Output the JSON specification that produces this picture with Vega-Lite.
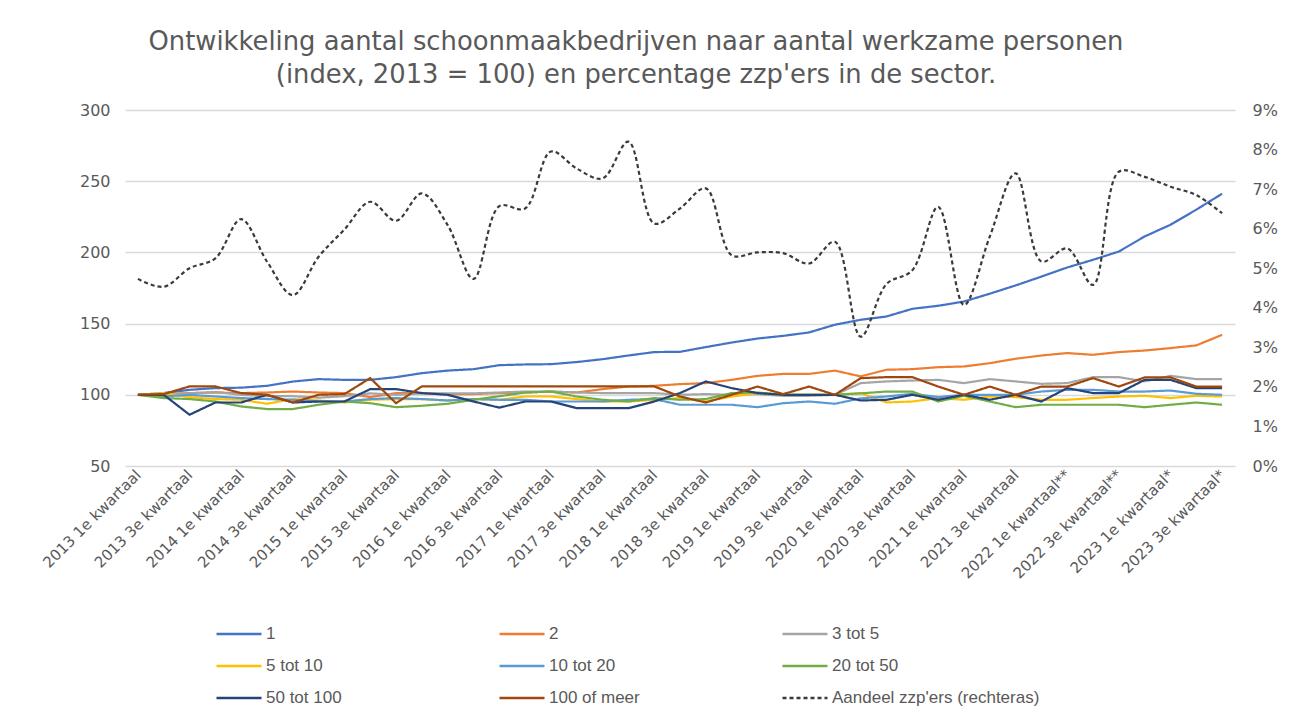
{
  "$schema": "https://vega.github.io/schema/vega-lite/v6.json",
  "width": 1110,
  "height": 356,
  "autosize": {"type": "none"},
  "padding": {"left": 125, "top": 110, "right": 61, "bottom": 253},
  "background": "white",
  "title": {
    "text": ["Ontwikkeling aantal schoonmaakbedrijven naar aantal werkzame personen", "(index, 2013 = 100) en percentage zzp'ers in de sector."],
    "font": "DejaVu Sans", "fontSize": 25.8, "fontWeight": "normal", "color": "#595959",
    "anchor": "middle", "frame": "group", "dx": -44, "offset": 13, "lineHeight": 33
  },
  "config": {
    "view": {"stroke": null},
    "axis": {"labelFont": "DejaVu Sans", "labelColor": "#595959", "domain": false, "ticks": false, "title": null}
  },
  "datasets": {
    "index": [
{"q":"2013 1e kwartaal","s":"1","v":100},{"q":"2013 2e kwartaal","s":"1","v":101.2},{"q":"2013 3e kwartaal","s":"1","v":103.5},{"q":"2013 4e kwartaal","s":"1","v":104.7},
{"q":"2014 1e kwartaal","s":"1","v":105},{"q":"2014 2e kwartaal","s":"1","v":106.3},{"q":"2014 3e kwartaal","s":"1","v":109.3},{"q":"2014 4e kwartaal","s":"1","v":111},
{"q":"2015 1e kwartaal","s":"1","v":110.5},{"q":"2015 2e kwartaal","s":"1","v":110.5},{"q":"2015 3e kwartaal","s":"1","v":112.4},{"q":"2015 4e kwartaal","s":"1","v":115.2},
{"q":"2016 1e kwartaal","s":"1","v":117},{"q":"2016 2e kwartaal","s":"1","v":118},{"q":"2016 3e kwartaal","s":"1","v":120.8},{"q":"2016 4e kwartaal","s":"1","v":121.3},
{"q":"2017 1e kwartaal","s":"1","v":121.5},{"q":"2017 2e kwartaal","s":"1","v":123},{"q":"2017 3e kwartaal","s":"1","v":125},{"q":"2017 4e kwartaal","s":"1","v":127.6},
{"q":"2018 1e kwartaal","s":"1","v":130},{"q":"2018 2e kwartaal","s":"1","v":130.2},{"q":"2018 3e kwartaal","s":"1","v":133.5},{"q":"2018 4e kwartaal","s":"1","v":136.7},
{"q":"2019 1e kwartaal","s":"1","v":139.5},{"q":"2019 2e kwartaal","s":"1","v":141.4},{"q":"2019 3e kwartaal","s":"1","v":143.8},{"q":"2019 4e kwartaal","s":"1","v":149.2},
{"q":"2020 1e kwartaal","s":"1","v":152.7},{"q":"2020 2e kwartaal","s":"1","v":155},{"q":"2020 3e kwartaal","s":"1","v":160.4},{"q":"2020 4e kwartaal","s":"1","v":162.5},
{"q":"2021 1e kwartaal","s":"1","v":165.5},{"q":"2021 2e kwartaal","s":"1","v":171},{"q":"2021 3e kwartaal","s":"1","v":176.8},{"q":"2021 4e kwartaal","s":"1","v":183},
{"q":"2022 1e kwartaal**","s":"1","v":189.4},{"q":"2022 2e kwartaal**","s":"1","v":194.8},{"q":"2022 3e kwartaal**","s":"1","v":200.6},{"q":"2022 4e kwartaal**","s":"1","v":211.2},
{"q":"2023 1e kwartaal*","s":"1","v":219.4},{"q":"2023 2e kwartaal*","s":"1","v":230},{"q":"2023 3e kwartaal*","s":"1","v":241.2},

{"q":"2013 1e kwartaal","s":"2","v":100},{"q":"2013 2e kwartaal","s":"2","v":100.5},{"q":"2013 3e kwartaal","s":"2","v":101.2},{"q":"2013 4e kwartaal","s":"2","v":101.6},
{"q":"2014 1e kwartaal","s":"2","v":101.2},{"q":"2014 2e kwartaal","s":"2","v":101.6},{"q":"2014 3e kwartaal","s":"2","v":102.3},{"q":"2014 4e kwartaal","s":"2","v":101.6},
{"q":"2015 1e kwartaal","s":"2","v":101.2},{"q":"2015 2e kwartaal","s":"2","v":98.4},{"q":"2015 3e kwartaal","s":"2","v":101.2},{"q":"2015 4e kwartaal","s":"2","v":101.2},
{"q":"2016 1e kwartaal","s":"2","v":100.5},{"q":"2016 2e kwartaal","s":"2","v":100.5},{"q":"2016 3e kwartaal","s":"2","v":101.2},{"q":"2016 4e kwartaal","s":"2","v":101.6},
{"q":"2017 1e kwartaal","s":"2","v":102.3},{"q":"2017 2e kwartaal","s":"2","v":101.6},{"q":"2017 3e kwartaal","s":"2","v":104},{"q":"2017 4e kwartaal","s":"2","v":105.8},
{"q":"2018 1e kwartaal","s":"2","v":106.3},{"q":"2018 2e kwartaal","s":"2","v":107.5},{"q":"2018 3e kwartaal","s":"2","v":108.2},{"q":"2018 4e kwartaal","s":"2","v":110.5},
{"q":"2019 1e kwartaal","s":"2","v":113.3},{"q":"2019 2e kwartaal","s":"2","v":114.7},{"q":"2019 3e kwartaal","s":"2","v":114.7},{"q":"2019 4e kwartaal","s":"2","v":117},
{"q":"2020 1e kwartaal","s":"2","v":112.9},{"q":"2020 2e kwartaal","s":"2","v":117.6},{"q":"2020 3e kwartaal","s":"2","v":118},{"q":"2020 4e kwartaal","s":"2","v":119.4},
{"q":"2021 1e kwartaal","s":"2","v":119.9},{"q":"2021 2e kwartaal","s":"2","v":122.2},{"q":"2021 3e kwartaal","s":"2","v":125.3},{"q":"2021 4e kwartaal","s":"2","v":127.6},
{"q":"2022 1e kwartaal**","s":"2","v":129.3},{"q":"2022 2e kwartaal**","s":"2","v":128.1},{"q":"2022 3e kwartaal**","s":"2","v":130},{"q":"2022 4e kwartaal**","s":"2","v":131.1},
{"q":"2023 1e kwartaal*","s":"2","v":132.8},{"q":"2023 2e kwartaal*","s":"2","v":134.7},{"q":"2023 3e kwartaal*","s":"2","v":142.1},

{"q":"2013 1e kwartaal","s":"3 tot 5","v":100},{"q":"2013 2e kwartaal","s":"3 tot 5","v":100},{"q":"2013 3e kwartaal","s":"3 tot 5","v":101},{"q":"2013 4e kwartaal","s":"3 tot 5","v":102},
{"q":"2014 1e kwartaal","s":"3 tot 5","v":100},{"q":"2014 2e kwartaal","s":"3 tot 5","v":99},{"q":"2014 3e kwartaal","s":"3 tot 5","v":99},{"q":"2014 4e kwartaal","s":"3 tot 5","v":98},
{"q":"2015 1e kwartaal","s":"3 tot 5","v":99},{"q":"2015 2e kwartaal","s":"3 tot 5","v":101},{"q":"2015 3e kwartaal","s":"3 tot 5","v":100},{"q":"2015 4e kwartaal","s":"3 tot 5","v":101},
{"q":"2016 1e kwartaal","s":"3 tot 5","v":101},{"q":"2016 2e kwartaal","s":"3 tot 5","v":101},{"q":"2016 3e kwartaal","s":"3 tot 5","v":101.6},{"q":"2016 4e kwartaal","s":"3 tot 5","v":102.3},
{"q":"2017 1e kwartaal","s":"3 tot 5","v":102.3},{"q":"2017 2e kwartaal","s":"3 tot 5","v":101.6},{"q":"2017 3e kwartaal","s":"3 tot 5","v":101.2},{"q":"2017 4e kwartaal","s":"3 tot 5","v":101.2},
{"q":"2018 1e kwartaal","s":"3 tot 5","v":101.2},{"q":"2018 2e kwartaal","s":"3 tot 5","v":100},{"q":"2018 3e kwartaal","s":"3 tot 5","v":100.5},{"q":"2018 4e kwartaal","s":"3 tot 5","v":100},
{"q":"2019 1e kwartaal","s":"3 tot 5","v":100.5},{"q":"2019 2e kwartaal","s":"3 tot 5","v":99.3},{"q":"2019 3e kwartaal","s":"3 tot 5","v":99.3},{"q":"2019 4e kwartaal","s":"3 tot 5","v":100},
{"q":"2020 1e kwartaal","s":"3 tot 5","v":108.2},{"q":"2020 2e kwartaal","s":"3 tot 5","v":109.4},{"q":"2020 3e kwartaal","s":"3 tot 5","v":110},{"q":"2020 4e kwartaal","s":"3 tot 5","v":110.5},
{"q":"2021 1e kwartaal","s":"3 tot 5","v":108.2},{"q":"2021 2e kwartaal","s":"3 tot 5","v":111},{"q":"2021 3e kwartaal","s":"3 tot 5","v":109.4},{"q":"2021 4e kwartaal","s":"3 tot 5","v":107.7},
{"q":"2022 1e kwartaal**","s":"3 tot 5","v":108.2},{"q":"2022 2e kwartaal**","s":"3 tot 5","v":112.4},{"q":"2022 3e kwartaal**","s":"3 tot 5","v":112.4},{"q":"2022 4e kwartaal**","s":"3 tot 5","v":109.4},
{"q":"2023 1e kwartaal*","s":"3 tot 5","v":113.3},{"q":"2023 2e kwartaal*","s":"3 tot 5","v":111},{"q":"2023 3e kwartaal*","s":"3 tot 5","v":111},

{"q":"2013 1e kwartaal","s":"5 tot 10","v":100},{"q":"2013 2e kwartaal","s":"5 tot 10","v":101.2},{"q":"2013 3e kwartaal","s":"5 tot 10","v":98.4},{"q":"2013 4e kwartaal","s":"5 tot 10","v":97},
{"q":"2014 1e kwartaal","s":"5 tot 10","v":96.5},{"q":"2014 2e kwartaal","s":"5 tot 10","v":93.7},{"q":"2014 3e kwartaal","s":"5 tot 10","v":97},{"q":"2014 4e kwartaal","s":"5 tot 10","v":96},
{"q":"2015 1e kwartaal","s":"5 tot 10","v":94.6},{"q":"2015 2e kwartaal","s":"5 tot 10","v":96.5},{"q":"2015 3e kwartaal","s":"5 tot 10","v":97},{"q":"2015 4e kwartaal","s":"5 tot 10","v":97},
{"q":"2016 1e kwartaal","s":"5 tot 10","v":96},{"q":"2016 2e kwartaal","s":"5 tot 10","v":97},{"q":"2016 3e kwartaal","s":"5 tot 10","v":96.5},{"q":"2016 4e kwartaal","s":"5 tot 10","v":98.8},
{"q":"2017 1e kwartaal","s":"5 tot 10","v":98.8},{"q":"2017 2e kwartaal","s":"5 tot 10","v":97},{"q":"2017 3e kwartaal","s":"5 tot 10","v":95.3},{"q":"2017 4e kwartaal","s":"5 tot 10","v":95.3},
{"q":"2018 1e kwartaal","s":"5 tot 10","v":96.5},{"q":"2018 2e kwartaal","s":"5 tot 10","v":97.7},{"q":"2018 3e kwartaal","s":"5 tot 10","v":95.3},{"q":"2018 4e kwartaal","s":"5 tot 10","v":98.8},
{"q":"2019 1e kwartaal","s":"5 tot 10","v":101.2},{"q":"2019 2e kwartaal","s":"5 tot 10","v":100},{"q":"2019 3e kwartaal","s":"5 tot 10","v":100},{"q":"2019 4e kwartaal","s":"5 tot 10","v":100},
{"q":"2020 1e kwartaal","s":"5 tot 10","v":101.2},{"q":"2020 2e kwartaal","s":"5 tot 10","v":94.6},{"q":"2020 3e kwartaal","s":"5 tot 10","v":95.3},{"q":"2020 4e kwartaal","s":"5 tot 10","v":97.7},
{"q":"2021 1e kwartaal","s":"5 tot 10","v":96.5},{"q":"2021 2e kwartaal","s":"5 tot 10","v":98.8},{"q":"2021 3e kwartaal","s":"5 tot 10","v":98.4},{"q":"2021 4e kwartaal","s":"5 tot 10","v":96.5},
{"q":"2022 1e kwartaal**","s":"5 tot 10","v":96.5},{"q":"2022 2e kwartaal**","s":"5 tot 10","v":97.7},{"q":"2022 3e kwartaal**","s":"5 tot 10","v":98.8},{"q":"2022 4e kwartaal**","s":"5 tot 10","v":99.3},
{"q":"2023 1e kwartaal*","s":"5 tot 10","v":97.7},{"q":"2023 2e kwartaal*","s":"5 tot 10","v":99.3},{"q":"2023 3e kwartaal*","s":"5 tot 10","v":98.8},

{"q":"2013 1e kwartaal","s":"10 tot 20","v":100},{"q":"2013 2e kwartaal","s":"10 tot 20","v":98.8},{"q":"2013 3e kwartaal","s":"10 tot 20","v":100},{"q":"2013 4e kwartaal","s":"10 tot 20","v":98.8},
{"q":"2014 1e kwartaal","s":"10 tot 20","v":97.7},{"q":"2014 2e kwartaal","s":"10 tot 20","v":97},{"q":"2014 3e kwartaal","s":"10 tot 20","v":96.5},{"q":"2014 4e kwartaal","s":"10 tot 20","v":95.3},
{"q":"2015 1e kwartaal","s":"10 tot 20","v":95.3},{"q":"2015 2e kwartaal","s":"10 tot 20","v":97},{"q":"2015 3e kwartaal","s":"10 tot 20","v":97.7},{"q":"2015 4e kwartaal","s":"10 tot 20","v":97},
{"q":"2016 1e kwartaal","s":"10 tot 20","v":96},{"q":"2016 2e kwartaal","s":"10 tot 20","v":97},{"q":"2016 3e kwartaal","s":"10 tot 20","v":96.5},{"q":"2016 4e kwartaal","s":"10 tot 20","v":96.5},
{"q":"2017 1e kwartaal","s":"10 tot 20","v":95.3},{"q":"2017 2e kwartaal","s":"10 tot 20","v":95.3},{"q":"2017 3e kwartaal","s":"10 tot 20","v":95.3},{"q":"2017 4e kwartaal","s":"10 tot 20","v":96.5},
{"q":"2018 1e kwartaal","s":"10 tot 20","v":97},{"q":"2018 2e kwartaal","s":"10 tot 20","v":93},{"q":"2018 3e kwartaal","s":"10 tot 20","v":93},{"q":"2018 4e kwartaal","s":"10 tot 20","v":93},
{"q":"2019 1e kwartaal","s":"10 tot 20","v":91.3},{"q":"2019 2e kwartaal","s":"10 tot 20","v":94.1},{"q":"2019 3e kwartaal","s":"10 tot 20","v":95.3},{"q":"2019 4e kwartaal","s":"10 tot 20","v":93.7},
{"q":"2020 1e kwartaal","s":"10 tot 20","v":97.5},{"q":"2020 2e kwartaal","s":"10 tot 20","v":98.8},{"q":"2020 3e kwartaal","s":"10 tot 20","v":100.7},{"q":"2020 4e kwartaal","s":"10 tot 20","v":98.4},
{"q":"2021 1e kwartaal","s":"10 tot 20","v":100},{"q":"2021 2e kwartaal","s":"10 tot 20","v":100},{"q":"2021 3e kwartaal","s":"10 tot 20","v":100},{"q":"2021 4e kwartaal","s":"10 tot 20","v":102.3},
{"q":"2022 1e kwartaal**","s":"10 tot 20","v":103.5},{"q":"2022 2e kwartaal**","s":"10 tot 20","v":103.5},{"q":"2022 3e kwartaal**","s":"10 tot 20","v":102.3},{"q":"2022 4e kwartaal**","s":"10 tot 20","v":102.3},
{"q":"2023 1e kwartaal*","s":"10 tot 20","v":103},{"q":"2023 2e kwartaal*","s":"10 tot 20","v":100.7},{"q":"2023 3e kwartaal*","s":"10 tot 20","v":100},

{"q":"2013 1e kwartaal","s":"20 tot 50","v":100},{"q":"2013 2e kwartaal","s":"20 tot 50","v":97.7},{"q":"2013 3e kwartaal","s":"20 tot 50","v":97},{"q":"2013 4e kwartaal","s":"20 tot 50","v":95.3},
{"q":"2014 1e kwartaal","s":"20 tot 50","v":91.8},{"q":"2014 2e kwartaal","s":"20 tot 50","v":90},{"q":"2014 3e kwartaal","s":"20 tot 50","v":90},{"q":"2014 4e kwartaal","s":"20 tot 50","v":93},
{"q":"2015 1e kwartaal","s":"20 tot 50","v":95.3},{"q":"2015 2e kwartaal","s":"20 tot 50","v":94.1},{"q":"2015 3e kwartaal","s":"20 tot 50","v":91.3},{"q":"2015 4e kwartaal","s":"20 tot 50","v":92.3},
{"q":"2016 1e kwartaal","s":"20 tot 50","v":93.7},{"q":"2016 2e kwartaal","s":"20 tot 50","v":96.5},{"q":"2016 3e kwartaal","s":"20 tot 50","v":99},{"q":"2016 4e kwartaal","s":"20 tot 50","v":101.6},
{"q":"2017 1e kwartaal","s":"20 tot 50","v":102.3},{"q":"2017 2e kwartaal","s":"20 tot 50","v":98.8},{"q":"2017 3e kwartaal","s":"20 tot 50","v":96.5},{"q":"2017 4e kwartaal","s":"20 tot 50","v":95.3},
{"q":"2018 1e kwartaal","s":"20 tot 50","v":97.7},{"q":"2018 2e kwartaal","s":"20 tot 50","v":96.5},{"q":"2018 3e kwartaal","s":"20 tot 50","v":97},{"q":"2018 4e kwartaal","s":"20 tot 50","v":101.2},
{"q":"2019 1e kwartaal","s":"20 tot 50","v":101.6},{"q":"2019 2e kwartaal","s":"20 tot 50","v":100},{"q":"2019 3e kwartaal","s":"20 tot 50","v":100},{"q":"2019 4e kwartaal","s":"20 tot 50","v":100},
{"q":"2020 1e kwartaal","s":"20 tot 50","v":101},{"q":"2020 2e kwartaal","s":"20 tot 50","v":102.3},{"q":"2020 3e kwartaal","s":"20 tot 50","v":102.3},{"q":"2020 4e kwartaal","s":"20 tot 50","v":95.3},
{"q":"2021 1e kwartaal","s":"20 tot 50","v":99.3},{"q":"2021 2e kwartaal","s":"20 tot 50","v":95.3},{"q":"2021 3e kwartaal","s":"20 tot 50","v":91.3},{"q":"2021 4e kwartaal","s":"20 tot 50","v":93},
{"q":"2022 1e kwartaal**","s":"20 tot 50","v":93},{"q":"2022 2e kwartaal**","s":"20 tot 50","v":93},{"q":"2022 3e kwartaal**","s":"20 tot 50","v":93},{"q":"2022 4e kwartaal**","s":"20 tot 50","v":91.3},
{"q":"2023 1e kwartaal*","s":"20 tot 50","v":93},{"q":"2023 2e kwartaal*","s":"20 tot 50","v":94.6},{"q":"2023 3e kwartaal*","s":"20 tot 50","v":93},

{"q":"2013 1e kwartaal","s":"50 tot 100","v":100},{"q":"2013 2e kwartaal","s":"50 tot 100","v":100},{"q":"2013 3e kwartaal","s":"50 tot 100","v":86},{"q":"2013 4e kwartaal","s":"50 tot 100","v":94.6},
{"q":"2014 1e kwartaal","s":"50 tot 100","v":94.6},{"q":"2014 2e kwartaal","s":"50 tot 100","v":100},{"q":"2014 3e kwartaal","s":"50 tot 100","v":94.6},{"q":"2014 4e kwartaal","s":"50 tot 100","v":95.3},
{"q":"2015 1e kwartaal","s":"50 tot 100","v":95.3},{"q":"2015 2e kwartaal","s":"50 tot 100","v":104},{"q":"2015 3e kwartaal","s":"50 tot 100","v":104},{"q":"2015 4e kwartaal","s":"50 tot 100","v":101.2},
{"q":"2016 1e kwartaal","s":"50 tot 100","v":100},{"q":"2016 2e kwartaal","s":"50 tot 100","v":95.3},{"q":"2016 3e kwartaal","s":"50 tot 100","v":91},{"q":"2016 4e kwartaal","s":"50 tot 100","v":95.3},
{"q":"2017 1e kwartaal","s":"50 tot 100","v":95.3},{"q":"2017 2e kwartaal","s":"50 tot 100","v":90.6},{"q":"2017 3e kwartaal","s":"50 tot 100","v":90.6},{"q":"2017 4e kwartaal","s":"50 tot 100","v":90.6},
{"q":"2018 1e kwartaal","s":"50 tot 100","v":95.3},{"q":"2018 2e kwartaal","s":"50 tot 100","v":101.2},{"q":"2018 3e kwartaal","s":"50 tot 100","v":109.4},{"q":"2018 4e kwartaal","s":"50 tot 100","v":104.7},
{"q":"2019 1e kwartaal","s":"50 tot 100","v":101.2},{"q":"2019 2e kwartaal","s":"50 tot 100","v":100},{"q":"2019 3e kwartaal","s":"50 tot 100","v":100},{"q":"2019 4e kwartaal","s":"50 tot 100","v":100},
{"q":"2020 1e kwartaal","s":"50 tot 100","v":96},{"q":"2020 2e kwartaal","s":"50 tot 100","v":96.5},{"q":"2020 3e kwartaal","s":"50 tot 100","v":100},{"q":"2020 4e kwartaal","s":"50 tot 100","v":96.5},
{"q":"2021 1e kwartaal","s":"50 tot 100","v":100},{"q":"2021 2e kwartaal","s":"50 tot 100","v":96.5},{"q":"2021 3e kwartaal","s":"50 tot 100","v":100},{"q":"2021 4e kwartaal","s":"50 tot 100","v":95.3},
{"q":"2022 1e kwartaal**","s":"50 tot 100","v":104.7},{"q":"2022 2e kwartaal**","s":"50 tot 100","v":101.2},{"q":"2022 3e kwartaal**","s":"50 tot 100","v":101.2},{"q":"2022 4e kwartaal**","s":"50 tot 100","v":110.5},
{"q":"2023 1e kwartaal*","s":"50 tot 100","v":110.5},{"q":"2023 2e kwartaal*","s":"50 tot 100","v":104.7},{"q":"2023 3e kwartaal*","s":"50 tot 100","v":104.7},

{"q":"2013 1e kwartaal","s":"100 of meer","v":100},{"q":"2013 2e kwartaal","s":"100 of meer","v":100.5},{"q":"2013 3e kwartaal","s":"100 of meer","v":105.9},{"q":"2013 4e kwartaal","s":"100 of meer","v":105.9},
{"q":"2014 1e kwartaal","s":"100 of meer","v":101.2},{"q":"2014 2e kwartaal","s":"100 of meer","v":100},{"q":"2014 3e kwartaal","s":"100 of meer","v":94.6},{"q":"2014 4e kwartaal","s":"100 of meer","v":100},
{"q":"2015 1e kwartaal","s":"100 of meer","v":100.5},{"q":"2015 2e kwartaal","s":"100 of meer","v":111.7},{"q":"2015 3e kwartaal","s":"100 of meer","v":94.1},{"q":"2015 4e kwartaal","s":"100 of meer","v":105.9},
{"q":"2016 1e kwartaal","s":"100 of meer","v":105.9},{"q":"2016 2e kwartaal","s":"100 of meer","v":105.9},{"q":"2016 3e kwartaal","s":"100 of meer","v":105.9},{"q":"2016 4e kwartaal","s":"100 of meer","v":105.9},
{"q":"2017 1e kwartaal","s":"100 of meer","v":105.9},{"q":"2017 2e kwartaal","s":"100 of meer","v":105.9},{"q":"2017 3e kwartaal","s":"100 of meer","v":105.9},{"q":"2017 4e kwartaal","s":"100 of meer","v":105.9},
{"q":"2018 1e kwartaal","s":"100 of meer","v":105.9},{"q":"2018 2e kwartaal","s":"100 of meer","v":98.8},{"q":"2018 3e kwartaal","s":"100 of meer","v":94.6},{"q":"2018 4e kwartaal","s":"100 of meer","v":100},
{"q":"2019 1e kwartaal","s":"100 of meer","v":105.8},{"q":"2019 2e kwartaal","s":"100 of meer","v":100.5},{"q":"2019 3e kwartaal","s":"100 of meer","v":105.8},{"q":"2019 4e kwartaal","s":"100 of meer","v":100},
{"q":"2020 1e kwartaal","s":"100 of meer","v":111.7},{"q":"2020 2e kwartaal","s":"100 of meer","v":112.4},{"q":"2020 3e kwartaal","s":"100 of meer","v":112.4},{"q":"2020 4e kwartaal","s":"100 of meer","v":105.8},
{"q":"2021 1e kwartaal","s":"100 of meer","v":100},{"q":"2021 2e kwartaal","s":"100 of meer","v":105.8},{"q":"2021 3e kwartaal","s":"100 of meer","v":100},{"q":"2021 4e kwartaal","s":"100 of meer","v":105.8},
{"q":"2022 1e kwartaal**","s":"100 of meer","v":105.8},{"q":"2022 2e kwartaal**","s":"100 of meer","v":111.7},{"q":"2022 3e kwartaal**","s":"100 of meer","v":105.8},{"q":"2022 4e kwartaal**","s":"100 of meer","v":112.2},
{"q":"2023 1e kwartaal*","s":"100 of meer","v":112.2},{"q":"2023 2e kwartaal*","s":"100 of meer","v":105.8},{"q":"2023 3e kwartaal*","s":"100 of meer","v":105.8}
    ],
    "zzp": [
{"q":"2013 1e kwartaal","s":"Aandeel zzp'ers (rechteras)","p":4.73},{"q":"2013 2e kwartaal","s":"Aandeel zzp'ers (rechteras)","p":4.53},{"q":"2013 3e kwartaal","s":"Aandeel zzp'ers (rechteras)","p":5.0},{"q":"2013 4e kwartaal","s":"Aandeel zzp'ers (rechteras)","p":5.25},
{"q":"2014 1e kwartaal","s":"Aandeel zzp'ers (rechteras)","p":6.24},{"q":"2014 2e kwartaal","s":"Aandeel zzp'ers (rechteras)","p":5.17},{"q":"2014 3e kwartaal","s":"Aandeel zzp'ers (rechteras)","p":4.32},{"q":"2014 4e kwartaal","s":"Aandeel zzp'ers (rechteras)","p":5.29},
{"q":"2015 1e kwartaal","s":"Aandeel zzp'ers (rechteras)","p":5.98},{"q":"2015 2e kwartaal","s":"Aandeel zzp'ers (rechteras)","p":6.68},{"q":"2015 3e kwartaal","s":"Aandeel zzp'ers (rechteras)","p":6.2},{"q":"2015 4e kwartaal","s":"Aandeel zzp'ers (rechteras)","p":6.89},
{"q":"2016 1e kwartaal","s":"Aandeel zzp'ers (rechteras)","p":6.09},{"q":"2016 2e kwartaal","s":"Aandeel zzp'ers (rechteras)","p":4.73},{"q":"2016 3e kwartaal","s":"Aandeel zzp'ers (rechteras)","p":6.57},{"q":"2016 4e kwartaal","s":"Aandeel zzp'ers (rechteras)","p":6.51},
{"q":"2017 1e kwartaal","s":"Aandeel zzp'ers (rechteras)","p":7.95},{"q":"2017 2e kwartaal","s":"Aandeel zzp'ers (rechteras)","p":7.52},{"q":"2017 3e kwartaal","s":"Aandeel zzp'ers (rechteras)","p":7.27},{"q":"2017 4e kwartaal","s":"Aandeel zzp'ers (rechteras)","p":8.2},
{"q":"2018 1e kwartaal","s":"Aandeel zzp'ers (rechteras)","p":6.13},{"q":"2018 2e kwartaal","s":"Aandeel zzp'ers (rechteras)","p":6.51},{"q":"2018 3e kwartaal","s":"Aandeel zzp'ers (rechteras)","p":7.02},{"q":"2018 4e kwartaal","s":"Aandeel zzp'ers (rechteras)","p":5.33},
{"q":"2019 1e kwartaal","s":"Aandeel zzp'ers (rechteras)","p":5.4},{"q":"2019 2e kwartaal","s":"Aandeel zzp'ers (rechteras)","p":5.38},{"q":"2019 3e kwartaal","s":"Aandeel zzp'ers (rechteras)","p":5.12},{"q":"2019 4e kwartaal","s":"Aandeel zzp'ers (rechteras)","p":5.67},
{"q":"2020 1e kwartaal","s":"Aandeel zzp'ers (rechteras)","p":3.27},{"q":"2020 2e kwartaal","s":"Aandeel zzp'ers (rechteras)","p":4.6},{"q":"2020 3e kwartaal","s":"Aandeel zzp'ers (rechteras)","p":4.95},{"q":"2020 4e kwartaal","s":"Aandeel zzp'ers (rechteras)","p":6.55},
{"q":"2021 1e kwartaal","s":"Aandeel zzp'ers (rechteras)","p":4.07},{"q":"2021 2e kwartaal","s":"Aandeel zzp'ers (rechteras)","p":5.8},{"q":"2021 3e kwartaal","s":"Aandeel zzp'ers (rechteras)","p":7.4},{"q":"2021 4e kwartaal","s":"Aandeel zzp'ers (rechteras)","p":5.17},
{"q":"2022 1e kwartaal**","s":"Aandeel zzp'ers (rechteras)","p":5.5},{"q":"2022 2e kwartaal**","s":"Aandeel zzp'ers (rechteras)","p":4.58},{"q":"2022 3e kwartaal**","s":"Aandeel zzp'ers (rechteras)","p":7.44},{"q":"2022 4e kwartaal**","s":"Aandeel zzp'ers (rechteras)","p":7.31},
{"q":"2023 1e kwartaal*","s":"Aandeel zzp'ers (rechteras)","p":7.06},{"q":"2023 2e kwartaal*","s":"Aandeel zzp'ers (rechteras)","p":6.85},{"q":"2023 3e kwartaal*","s":"Aandeel zzp'ers (rechteras)","p":6.39}
    ]
  },
  "encoding": {
    "x": {
      "field": "q", "type": "nominal",
      "scale": {"type": "point", "padding": 0.5, "domain": [
        "2013 1e kwartaal","2013 2e kwartaal","2013 3e kwartaal","2013 4e kwartaal",
        "2014 1e kwartaal","2014 2e kwartaal","2014 3e kwartaal","2014 4e kwartaal",
        "2015 1e kwartaal","2015 2e kwartaal","2015 3e kwartaal","2015 4e kwartaal",
        "2016 1e kwartaal","2016 2e kwartaal","2016 3e kwartaal","2016 4e kwartaal",
        "2017 1e kwartaal","2017 2e kwartaal","2017 3e kwartaal","2017 4e kwartaal",
        "2018 1e kwartaal","2018 2e kwartaal","2018 3e kwartaal","2018 4e kwartaal",
        "2019 1e kwartaal","2019 2e kwartaal","2019 3e kwartaal","2019 4e kwartaal",
        "2020 1e kwartaal","2020 2e kwartaal","2020 3e kwartaal","2020 4e kwartaal",
        "2021 1e kwartaal","2021 2e kwartaal","2021 3e kwartaal","2021 4e kwartaal",
        "2022 1e kwartaal**","2022 2e kwartaal**","2022 3e kwartaal**","2022 4e kwartaal**",
        "2023 1e kwartaal*","2023 2e kwartaal*","2023 3e kwartaal*"]},
      "axis": {
        "values": ["2013 1e kwartaal","2013 3e kwartaal","2014 1e kwartaal","2014 3e kwartaal","2015 1e kwartaal","2015 3e kwartaal","2016 1e kwartaal","2016 3e kwartaal","2017 1e kwartaal","2017 3e kwartaal","2018 1e kwartaal","2018 3e kwartaal","2019 1e kwartaal","2019 3e kwartaal","2020 1e kwartaal","2020 3e kwartaal","2021 1e kwartaal","2021 3e kwartaal","2022 1e kwartaal**","2022 3e kwartaal**","2023 1e kwartaal*","2023 3e kwartaal*"],
        "labelAngle": -45, "labelAlign": "right", "labelBaseline": "middle",
        "labelFontSize": 15, "labelPadding": 6, "grid": false, "labelOverlap": false, "labelLimit": 300
      }
    },
    "color": {
      "field": "s", "type": "nominal",
      "scale": {
        "domain": ["1","2","3 tot 5","5 tot 10","10 tot 20","20 tot 50","50 tot 100","100 of meer","Aandeel zzp'ers (rechteras)"],
        "range": ["#4472C4","#ED7D31","#A5A5A5","#FFC000","#5B9BD5","#70AD47","#264478","#9E480E","#3a3a3a"]
      },
      "legend": {
        "orient": "none", "direction": "horizontal", "legendX": 90, "legendY": 500, "columns": 3, "title": null,
        "symbolType": "stroke", "symbolSize": 2025, "symbolStrokeWidth": 2.5,
        "labelFont": "Liberation Sans", "labelFontSize": 17, "labelColor": "#595959",
        "labelOffset": 3, "labelLimit": 400, "rowPadding": -13, "columnPadding": 20, "gridAlign": "all"
      }
    },
    "strokeDash": {
      "field": "s", "type": "nominal",
      "scale": {
        "domain": ["1","2","3 tot 5","5 tot 10","10 tot 20","20 tot 50","50 tot 100","100 of meer","Aandeel zzp'ers (rechteras)"],
        "range": [[1,0],[1,0],[1,0],[1,0],[1,0],[1,0],[1,0],[1,0],[4,3]]
      },
      "legend": {
        "orient": "none", "direction": "horizontal", "legendX": 90, "legendY": 500, "columns": 3, "title": null,
        "symbolType": "stroke", "symbolSize": 2025, "symbolStrokeWidth": 2.5,
        "labelFont": "Liberation Sans", "labelFontSize": 17, "labelColor": "#595959",
        "labelOffset": 3, "labelLimit": 400, "rowPadding": -13, "columnPadding": 20, "gridAlign": "all"
      }
    }
  },
  "layer": [
    {
      "data": {"name": "index"},
      "mark": {"type": "line", "strokeWidth": 2.2},
      "encoding": {
        "y": {
          "field": "v", "type": "quantitative",
          "scale": {"domain": [50, 300], "nice": false, "zero": false},
          "axis": {"orient": "left", "values": [50,100,150,200,250,300], "grid": true, "gridColor": "#d9d9d9", "gridWidth": 1.5, "labelFontSize": 16, "labelPadding": 15}
        }
      }
    },
    {
      "data": {"name": "zzp"},
      "mark": {"type": "line", "strokeWidth": 2.2, "interpolate": "catmull-rom"},
      "encoding": {
        "y": {
          "field": "p", "type": "quantitative",
          "scale": {"domain": [0, 9], "nice": false},
          "axis": {"orient": "right", "values": [0,1,2,3,4,5,6,7,8,9], "grid": false, "labelFontSize": 16, "labelPadding": 17, "labelExpr": "datum.value + '%'"}
        }
      }
    }
  ],
  "resolve": {"scale": {"y": "independent"}}
}
